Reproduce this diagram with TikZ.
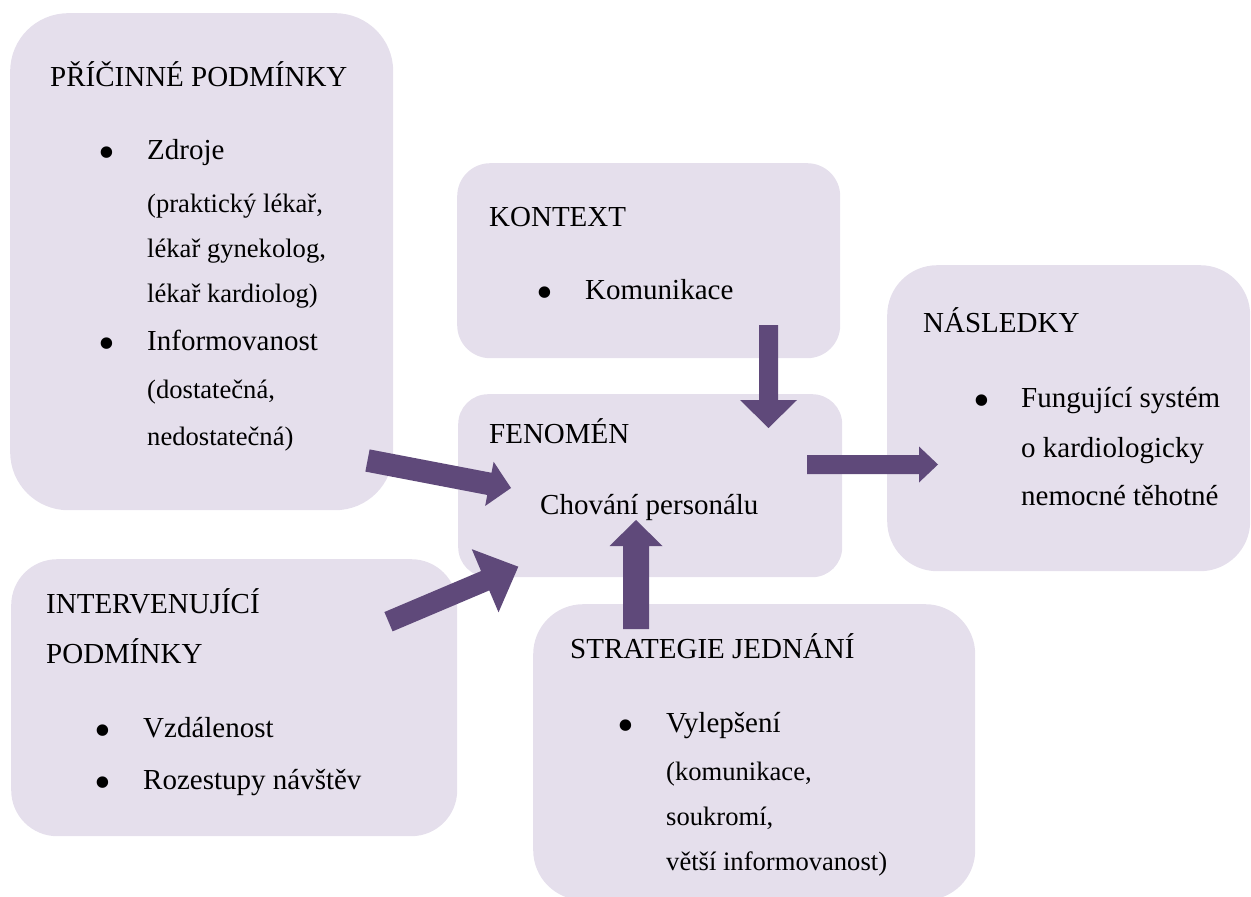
\documentclass[tikz,border=0pt]{standalone}
\usepackage{fontspec}
\setmainfont{Liberation Serif}
\usetikzlibrary{calc}
\definecolor{boxfill}{HTML}{E5DFEC}
\definecolor{arrowfill}{HTML}{5F497A}
\newcommand\blockarr[5]{%
  \fill[arrowfill]
    ($(#1)!#3!90:(#2)$) --
    ($($(#2)!#5!(#1)$)!#3!90:(#2)$) --
    ($($(#2)!#5!(#1)$)!#4!90:(#2)$) --
    (#2) --
    ($($(#2)!#5!(#1)$)!#4!-90:(#2)$) --
    ($($(#2)!#5!(#1)$)!#3!-90:(#2)$) --
    ($(#1)!#3!-90:(#2)$) -- cycle;}
\begin{document}
\begin{tikzpicture}[x=1pt,y=-1pt,
  box/.style={fill=boxfill, draw=none, inner sep=0pt, anchor=north west},
  hd/.style={anchor=base west, inner sep=0pt, font=\fontsize{29}{34}\selectfont},
  sub/.style={anchor=base west, inner sep=0pt, font=\fontsize{26.6}{31}\selectfont},
  bul/.style={anchor=base west, inner sep=0pt, font=\fontsize{48}{50}\selectfont}]
\useasboundingbox (0,0) rectangle (1251,897);
% boxes
\node[box, minimum width=383pt, minimum height=497pt, rounded corners=58pt] (pric) at (10,13) {};
\node[box, minimum width=383pt, minimum height=195pt, rounded corners=33pt] (kont) at (457,163) {};
\node[box, minimum width=384pt, minimum height=183pt, rounded corners=30pt] (fen) at (458,394) {};
\node[box, minimum width=363pt, minimum height=306pt, rounded corners=50pt] (nasl) at (887,265) {};
\node[box, minimum width=446pt, minimum height=277pt, rounded corners=46pt] (interv) at (11,559) {};
\node[box, minimum width=442pt, minimum height=296pt, rounded corners=50pt] (strat) at (533,604) {};
% connector ends
\coordinate (a1t) at (367.5,460.5); \coordinate (a1h) at (511,488);
\coordinate (a2t) at (388.5,621.7); \coordinate (a2h) at (518.3,566.7);
\coordinate (a3t) at (636,629);     \coordinate (a3h) at (636,520);
\coordinate (a4t) at (768.5,325);   \coordinate (a4h) at (768.5,428);
\coordinate (a5t) at (807,464.5);   \coordinate (a5h) at (938,464.5);
\blockarr{a1t}{a1h}{11.3pt}{22.5pt}{22pt}
\blockarr{a2t}{a2h}{10.5pt}{34.3pt}{36pt}
\blockarr{a3t}{a3h}{13pt}{26.5pt}{26pt}
\blockarr{a4t}{a4h}{9.5pt}{28.5pt}{28pt}
\blockarr{a5t}{a5h}{9.5pt}{18pt}{19pt}
% texts: příčinné podmínky
\node[hd] (t1) at (50,86) {PŘÍČINNÉ PODMÍNKY};
\node[bul] (b1) at (98.5,168.6) {•};
\node[hd] (t2) at (147,159) {Zdroje};
\node[sub] (t3) at (147,212) {(praktický lékař,};
\node[sub] (t4) at (147,257) {lékař gynekolog,};
\node[sub] (t5) at (147,302) {lékař kardiolog)};
\node[bul] (b2) at (98.5,359.6) {•};
\node[hd] (t6) at (147,350) {Informovanost};
\node[sub] (t7) at (147,398) {(dostatečná,};
\node[sub] (t8) at (147,445) {nedostatečná)};
% kontext
\node[hd] (k1) at (489,226) {KONTEXT};
\node[bul] (b3) at (536.5,308.6) {•};
\node[hd] (k2) at (585,299) {Komunikace};
% fenomén
\node[hd] (f1) at (489,443) {FENOMÉN};
\node[hd] (f2) at (540,514) {Chování personálu};
% následky
\node[hd] (n1) at (923,332) {NÁSLEDKY};
\node[bul] (b4) at (973,416.6) {•};
\node[hd] (n2) at (1021,407) {Fungující systém};
\node[hd] (n3) at (1021,457) {o kardiologicky};
\node[hd] (n4) at (1021,505) {nemocné těhotné};
% intervenující podmínky
\node[hd] (i1) at (46,613) {INTERVENUJÍCÍ};
\node[hd] (i2) at (46,663) {PODMÍNKY};
\node[bul] (b5) at (94.5,746.6) {•};
\node[hd] (i3) at (143,737) {Vzdálenost};
\node[bul] (b6) at (94.5,798.6) {•};
\node[hd] (i4) at (143,789) {Rozestupy návštěv};
% strategie jednání
\node[hd] (s1) at (570,658) {STRATEGIE JEDNÁNÍ};
\node[bul] (b7) at (617,741.6) {•};
\node[hd] (s2) at (666,732) {Vylepšení};
\node[sub] (s3) at (666,780) {(komunikace,};
\node[sub] (s4) at (666,825) {soukromí,};
\node[sub] (s5) at (666,870) {větší informovanost)};
\end{tikzpicture}
\end{document}
